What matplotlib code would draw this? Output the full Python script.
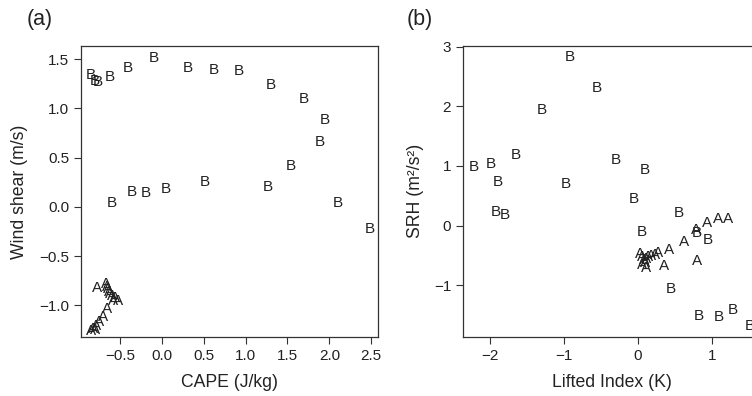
#!/usr/bin/env python3
"""Two-panel letter scatter: wind shear vs CAPE (a), SRH vs lifted index (b).
Group A / group B observations are drawn as their letters."""
import matplotlib
matplotlib.use("Agg")
import matplotlib.pyplot as plt

plt.rcParams["font.family"] = ["Liberation Sans", "DejaVu Sans"]

# panel (a): CAPE (J/kg) vs wind shear (m/s)
cape_a = [-0.77, -0.67, -0.655, -0.64, -0.63, -0.62, -0.595, -0.56, -0.52, -0.58,
          -0.655, -0.70, -0.75, -0.785, -0.82, -0.845, -0.80]
shear_a = [-0.82, -0.78, -0.81, -0.84, -0.87, -0.89, -0.91, -0.93, -0.96, -0.96,
           -1.04, -1.12, -1.17, -1.21, -1.24, -1.26, -1.25]
cape_b = [-0.845, -0.80, -0.76, -0.62, -0.40, -0.10, 0.31, 0.62, 0.92, 1.30, 1.69,
          1.95, 1.88, 1.54, 0.51, 1.26, 0.05, -0.36, -0.19, -0.60, 2.10, 2.48]
shear_b = [1.34, 1.28, 1.27, 1.32, 1.41, 1.51, 1.41, 1.39, 1.38, 1.24, 1.10,
           0.88, 0.66, 0.42, 0.25, 0.20, 0.18, 0.15, 0.14, 0.04, 0.04, -0.23]

# panel (b): lifted index (K) vs SRH (m2/s2)
li_a = [0.79, 0.94, 1.09, 1.22, 0.63, 0.42, 0.27, 0.36, 0.80,
        0.03, 0.06, 0.085, 0.11, 0.14, 0.18, 0.10, 0.06, 0.11, 0.23]
srh_a = [-0.07, 0.05, 0.11, 0.11, -0.27, -0.41, -0.46, -0.68, -0.59,
         -0.47, -0.52, -0.57, -0.55, -0.52, -0.50, -0.62, -0.66, -0.71, -0.49]
li_b = [-0.92, -0.55, -1.29, -1.64, -2.22, -1.98, -1.89, -0.97, -0.30, 0.10,
        -0.05, -1.92, -1.80, 0.56, 0.05, 0.80, 0.95, 0.45, 0.82, 1.09, 1.29, 1.51]
srh_b = [2.83, 2.30, 1.93, 1.19, 0.98, 1.04, 0.73, 0.69, 1.10, 0.93,
         0.45, 0.23, 0.18, 0.21, -0.11, -0.12, -0.24, -1.06, -1.52, -1.53, -1.41, -1.68]

TXT = "#222222"


def letters(ax, xs, ys, ch):
    for x, y in zip(xs, ys):
        ax.text(x, y, ch, ha="center", va="center", fontsize=11, color=TXT)


def style(ax):
    for s in ax.spines.values():
        s.set_color("#333333")
        s.set_linewidth(0.9)
    ax.tick_params(direction="out", length=5, width=0.8, colors="#333333",
                   labelsize=11, labelcolor=TXT, pad=3.5)


fig = plt.figure(figsize=(7.52, 3.96), dpi=100)

ax1 = fig.add_axes([81 / 752, 59.3 / 396, 297 / 752, 290.7 / 396])
letters(ax1, cape_a, shear_a, "A")
letters(ax1, cape_b, shear_b, "B")
ax1.set_xlim(-0.964, 2.58)
ax1.set_ylim(-1.32, 1.635)
ax1.set_xticks([-0.5, 0.0, 0.5, 1.0, 1.5, 2.0, 2.5])
ax1.set_xticklabels(["−0.5", "0.0", "0.5", "1.0", "1.5", "2.0", "2.5"])
ax1.set_yticks([-1.0, -0.5, 0.0, 0.5, 1.0, 1.5])
ax1.set_yticklabels(["−1.0", "−0.5", "0.0", "0.5", "1.0", "1.5"])
style(ax1)
ax1.set_xlabel("CAPE (J/kg)", fontsize=12.7, color=TXT, va="center")
ax1.xaxis.set_label_coords(0.5, -0.158)
ax1.set_ylabel("Wind shear (m/s)", fontsize=12.7, color=TXT, va="center")
ax1.yaxis.set_label_coords(-0.207, 0.5)

ax2 = fig.add_axes([463 / 752, 59.3 / 396, 297.5 / 752, 290.7 / 396])
letters(ax2, li_a, srh_a, "A")
letters(ax2, li_b, srh_b, "B")
ax2.set_xlim(-2.36, 1.66)
ax2.set_ylim(-1.86, 3.01)
ax2.set_xticks([-2, -1, 0, 1])
ax2.set_xticklabels(["−2", "−1", "0", "1"])
ax2.set_yticks([-1, 0, 1, 2, 3])
ax2.set_yticklabels(["−1", "0", "1", "2", "3"])
style(ax2)
ax2.set_xlabel("Lifted Index (K)", fontsize=12.7, color=TXT, va="center")
ax2.xaxis.set_label_coords(0.5, -0.158)
ax2.set_ylabel("SRH (m²/s²)", fontsize=12.7, color=TXT, va="center")
ax2.yaxis.set_label_coords(-0.158, 0.5)

fig.text(39.5 / 752, 1 - 20 / 396, "(a)", fontsize=15.5, color=TXT, ha="center", va="center")
fig.text(420 / 752, 1 - 20 / 396, "(b)", fontsize=15.5, color=TXT, ha="center", va="center")

fig.savefig("out.png", dpi=100)
